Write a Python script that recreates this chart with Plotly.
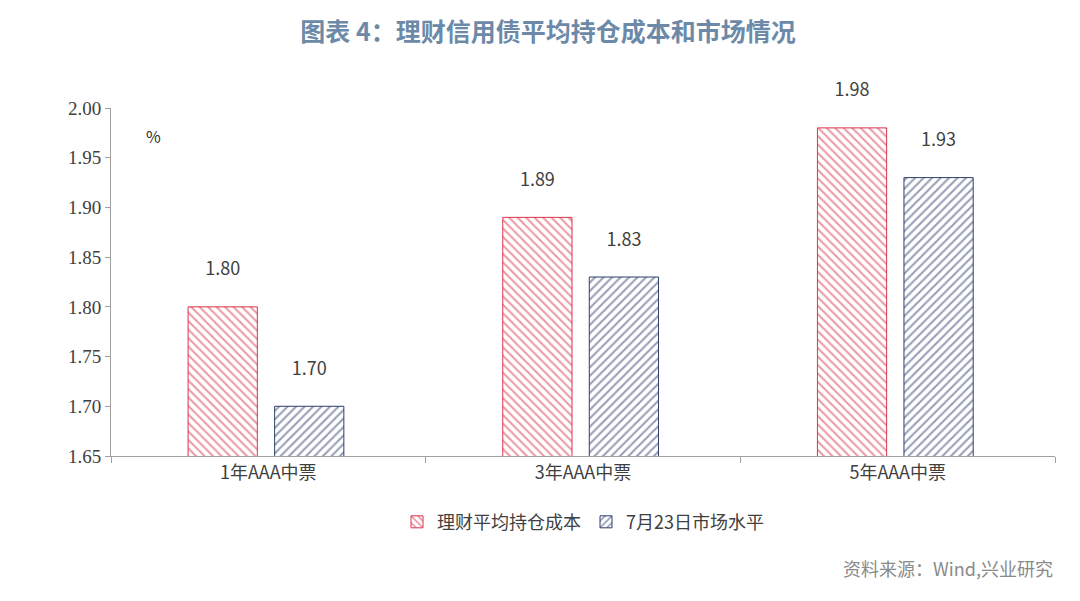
import plotly.graph_objects as go

categories = ["1年AAA中票", "3年AAA中票", "5年AAA中票"]
cost = [1.80, 1.89, 1.98]
market = [1.70, 1.83, 1.93]
names = ["理财平均持仓成本", "7月23日市场水平"]
yticks = [1.65, 1.70, 1.75, 1.80, 1.85, 1.90, 1.95, 2.00]

red = "#D9344A"
navy = "#2E3F6E"
fig = go.Figure()
fig.add_bar(x=categories, y=cost, name=names[0], width=0.22, offset=-0.255,
            marker=dict(color="white", line=dict(color=red, width=1),
                        pattern=dict(shape="\\", fgcolor=red, bgcolor="white", size=6, solidity=0.35)),
            text=[f"{v:.2f}<br> " for v in cost], textposition="outside",
            textfont=dict(size=18, color="#404040"), cliponaxis=False)
fig.add_bar(x=categories, y=market, name=names[1], width=0.22, offset=0.02,
            marker=dict(color="white", line=dict(color=navy, width=1),
                        pattern=dict(shape="/", fgcolor=navy, bgcolor="white", size=6, solidity=0.35)),
            text=[f"{v:.2f}<br> " for v in market], textposition="outside",
            textfont=dict(size=18, color="#404040"), cliponaxis=False)

fig.update_layout(
    width=1080, height=601, plot_bgcolor="white", paper_bgcolor="white",
    font=dict(family="Noto Sans CJK SC", color="#404040"),
    margin=dict(l=103, r=33, t=100, b=153, autoexpand=False),
    title=dict(text="<b>图表 4：理财信用债平均持仓成本和市场情况</b>", x=0.5, y=0.96,
               xanchor="center", yanchor="middle", font=dict(size=25, color="#6C8AA8")),
    uniformtext=dict(minsize=18, mode="show"),
    legend=dict(orientation="h", x=0.5, xanchor="center", y=-0.19, yanchor="middle",
                font=dict(size=18, color="#404040")),
    bargap=0.3,
)
fig.update_yaxes(range=[1.65, 2.0], tickvals=yticks, ticktext=[f"{v:.2f}" for v in yticks],
                 showgrid=False, showline=True, linecolor="#A0A0A0", ticks="outside",
                 tickcolor="#A0A0A0", ticklen=5, tickfont=dict(family="Liberation Serif", size=19),
                 zeroline=False, automargin=False)
fig.update_xaxes(showline=True, linecolor="#A0A0A0", ticks="outside", tickcolor="#A0A0A0",
                 tickson="boundaries", ticklen=6, tickfont=dict(size=18), automargin=False)
fig.add_annotation(text="%", xref="paper", yref="paper", x=0.035, y=0.96, showarrow=False,
                   font=dict(size=16, color="#303030"))
fig.add_annotation(text="资料来源：Wind,兴业研究", xref="paper", yref="paper", x=1.0, y=-0.365,
                   xanchor="right", showarrow=False, font=dict(size=18, color="#8A8A8A"))
fig.write_html("out.html")
